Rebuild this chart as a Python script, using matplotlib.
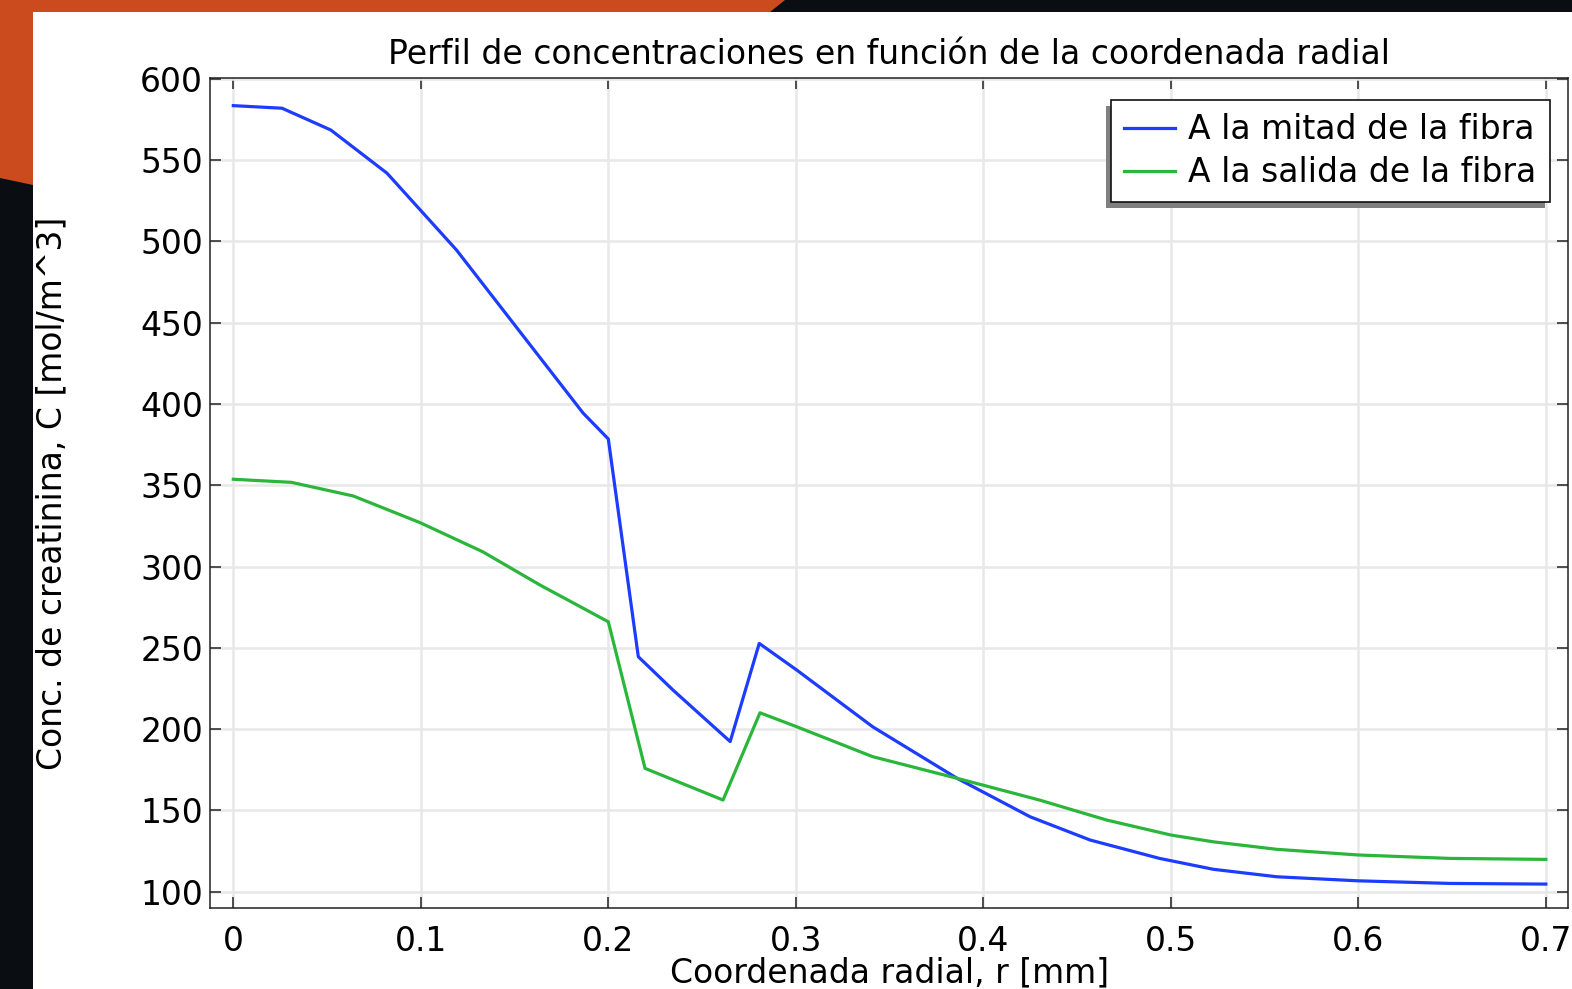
import matplotlib
matplotlib.use("Agg")
import matplotlib.pyplot as plt
from matplotlib.patches import Rectangle, Polygon

# radial coordinate [mm] and concentration [mol/m^3]
r_mitad = [0, 0.026, 0.052, 0.082, 0.119, 0.148, 0.1865, 0.2, 0.216, 0.2345,
           0.265, 0.2805, 0.3005, 0.341, 0.386, 0.425, 0.457, 0.494, 0.5227,
           0.5565, 0.6, 0.649, 0.7]
c_mitad = [583.6, 582.0, 568.6, 542.0, 494.8, 451.7, 394.5, 378.5, 244.5, 224.0,
           192.3, 252.7, 236.3, 201.4, 169.7, 146.0, 131.7, 120.4, 113.7,
           109.1, 106.6, 105.0, 104.6]

r_salida = [0, 0.031, 0.064, 0.0996, 0.133, 0.1636, 0.2, 0.2196, 0.2612, 0.2809,
            0.3005, 0.341, 0.386, 0.430, 0.4658, 0.5, 0.5227, 0.5565, 0.6,
            0.649, 0.7]
c_salida = [353.7, 351.8, 343.4, 327.0, 309.1, 288.6, 266.0, 175.8, 156.3, 210.0,
            201.4, 183.0, 169.7, 156.3, 144.0, 134.8, 130.6, 126.0, 122.5,
            120.4, 119.8]

labels = ["A la mitad de la fibra", "A la salida de la fibra"]
x_ticks = [0, 0.1, 0.2, 0.3, 0.4, 0.5, 0.6, 0.7]
y_ticks = [100, 150, 200, 250, 300, 350, 400, 450, 500, 550, 600]

W, H = 1572, 989
FS = 23.8

fig = plt.figure(figsize=(W / 100, H / 100), dpi=100)
fig.patch.set_facecolor("#0a0d12")

# screenshot surroundings: orange corner + white panel
def px(x, y):
    return (x / W, 1 - y / H)

fig.patches.append(Polygon([px(0, 0), px(785, 0), px(770, 12), px(33, 12),
                            px(33, 185), px(0, 178)], closed=True,
                           transform=fig.transFigure, facecolor="#cb4b1f",
                           edgecolor="none", zorder=-3))
fig.patches.append(Rectangle(px(33, H), (W - 33) / W, (H - 12) / H,
                             transform=fig.transFigure, facecolor="white",
                             edgecolor="none", zorder=-2))

ax = fig.add_axes([210 / W, 1 - 908.3 / H, (1568.3 - 210) / W, (908.3 - 78) / H])
ax.set_facecolor("white")

ax.plot(r_mitad, c_mitad, color="#1c3cff", lw=2.3, label=labels[0], zorder=3)
ax.plot(r_salida, c_salida, color="#2bb63b", lw=2.3, label=labels[1], zorder=3)

ax.set_xlim(-0.01243, 0.712)
ax.set_ylim(89.7, 600.6)
ax.set_xticks(x_ticks)
ax.set_xticklabels(["0", "0.1", "0.2", "0.3", "0.4", "0.5", "0.6", "0.7"])
ax.set_yticks(y_ticks)

ax.grid(True, color="#e8e8e8", lw=1.8)
ax.set_axisbelow(True)
for s in ax.spines.values():
    s.set_color("#222222")
    s.set_linewidth(1.1)
ax.tick_params(axis="both", direction="in", length=8, width=1.1, color="#222222",
               labelsize=FS, top=True, right=True)
ax.tick_params(axis="x", pad=12)
ax.tick_params(axis="y", pad=5)

ax.set_title("Perfil de concentraciones en función de la coordenada radial",
             fontsize=FS, pad=10)
ax.set_xlabel("Coordenada radial, r [mm]", fontsize=FS)
ax.set_ylabel("Conc. de creatinina, C [mol/m^3]", fontsize=FS)
ax.xaxis.set_label_coords(0.5, -0.058)
ax.yaxis.set_label_coords(-0.1045, 0.5)

leg = ax.legend(loc="upper left", bbox_to_anchor=(0.663, 0.9735), borderaxespad=0,
                fontsize=FS, fancybox=False, framealpha=1, edgecolor="#111111",
                handlelength=1.55, handletextpad=0.4, borderpad=0.4,
                labelspacing=0.3)
leg.get_frame().set_linewidth(1.2)
leg.set_zorder(10)

# shadow offset to the lower left
fig.canvas.draw()
bb = leg.get_window_extent()
inv = ax.transAxes.inverted()
(x0, y0), (x1, y1) = inv.transform([(bb.x0 - 5, bb.y0 - 6), (bb.x1 - 5, bb.y1 - 6)])
ax.add_patch(Rectangle((x0, y0), x1 - x0, y1 - y0, transform=ax.transAxes,
                       facecolor="#808080", edgecolor="none", zorder=9,
                       clip_on=False))

fig.savefig("out.png", dpi=100, facecolor=fig.get_facecolor())
